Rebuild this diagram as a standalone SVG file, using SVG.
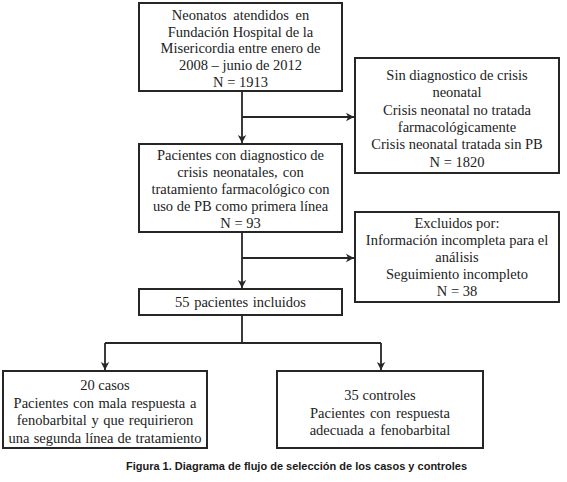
<svg xmlns="http://www.w3.org/2000/svg" width="567" height="482" viewBox="0 0 567 482">
<style>
.box{fill:#fff;stroke:#262626;stroke-width:2}
.t{font-family:"Liberation Serif","Times New Roman",serif;font-size:14.5px;fill:#222;text-anchor:middle}
.c{fill:none;stroke:#262626;stroke-width:1.8}
.cap{font-family:"Liberation Sans",Arial,sans-serif;font-size:11px;font-weight:bold;fill:#1a1a1a;text-anchor:middle}
</style>
<defs>
<marker id="ah" markerUnits="userSpaceOnUse" markerWidth="10" markerHeight="10" refX="8" refY="5" orient="auto">
<path d="M0,0.8 L8,5 L0,9.2 L2.2,5 Z" fill="#262626"/>
</marker>
</defs>
<rect width="567" height="482" fill="#fff"/>
<g id="connectors">
<path class="c" d="M242,91 V143" marker-end="url(#ah)"/>
<path class="c" d="M242,117 H354" marker-end="url(#ah)"/>
<path class="c" d="M242,232 V288" marker-end="url(#ah)"/>
<path class="c" d="M242,258 H354" marker-end="url(#ah)"/>
<path class="c" d="M242,315 V343 M105,343 H381"/>
<path class="c" d="M105,343 V370" marker-end="url(#ah)"/>
<path class="c" d="M381,343 V370" marker-end="url(#ah)"/>
</g>
<g id="n1">
<rect class="box" x="139" y="3" width="203" height="88"/>
<text class="t" x="240.5" y="20" word-spacing="3">Neonatos atendidos en</text>
<text class="t" x="240.5" y="36.6">Fundación Hospital de la</text>
<text class="t" x="240.5" y="53.2">Misericordia entre enero de</text>
<text class="t" x="240.5" y="69.8">2008 – junio de 2012</text>
<text class="t" x="240.5" y="86.5">N = 1913</text>
</g>
<g id="n2">
<rect class="box" x="355" y="58" width="204" height="115"/>
<text class="t" x="457" y="80">Sin diagnostico de crisis</text>
<text class="t" x="457" y="97.3">neonatal</text>
<text class="t" x="457" y="114.6">Crisis neonatal no tratada</text>
<text class="t" x="457" y="131.9">farmacológicamente</text>
<text class="t" x="457" y="149.2">Crisis neonatal tratada sin PB</text>
<text class="t" x="457" y="166.5">N = 1820</text>
</g>
<g id="n3">
<rect class="box" x="139" y="144" width="203" height="88"/>
<text class="t" x="240.5" y="160">Pacientes con diagnostico de</text>
<text class="t" x="240.5" y="177" word-spacing="1.5">crisis neonatales, con</text>
<text class="t" x="240.5" y="194">tratamiento farmacológico con</text>
<text class="t" x="240.5" y="211">uso de PB como primera línea</text>
<text class="t" x="240.5" y="227.5">N = 93</text>
</g>
<g id="n4">
<rect class="box" x="355" y="212" width="204" height="90"/>
<text class="t" x="457" y="228">Excluidos por:</text>
<text class="t" x="457" y="245">Información incompleta para el</text>
<text class="t" x="457" y="262">análisis</text>
<text class="t" x="457" y="279">Seguimiento incompleto</text>
<text class="t" x="457" y="295.5">N = 38</text>
</g>
<g id="n5">
<rect class="box" x="139" y="289" width="203" height="26"/>
<text class="t" x="240.5" y="307" word-spacing="1">55 pacientes incluidos</text>
</g>
<g id="n6">
<rect class="box" x="3" y="371" width="204" height="77"/>
<text class="t" x="105" y="390">20 casos</text>
<text class="t" x="105" y="408" word-spacing="1">Pacientes con mala respuesta a</text>
<text class="t" x="105" y="425" word-spacing="1">fenobarbital y que requirieron</text>
<text class="t" x="105" y="443" word-spacing="0.5">una segunda línea de tratamiento</text>
</g>
<g id="n7">
<rect class="box" x="277" y="371" width="206" height="77"/>
<text class="t" x="380" y="400">35 controles</text>
<text class="t" x="380" y="418" word-spacing="1.5">Pacientes con respuesta</text>
<text class="t" x="380" y="435" word-spacing="1.5">adecuada a fenobarbital</text>
</g>
<text class="cap" x="296.5" y="470">Figura 1. Diagrama de flujo de selección de los casos y controles</text>
</svg>
